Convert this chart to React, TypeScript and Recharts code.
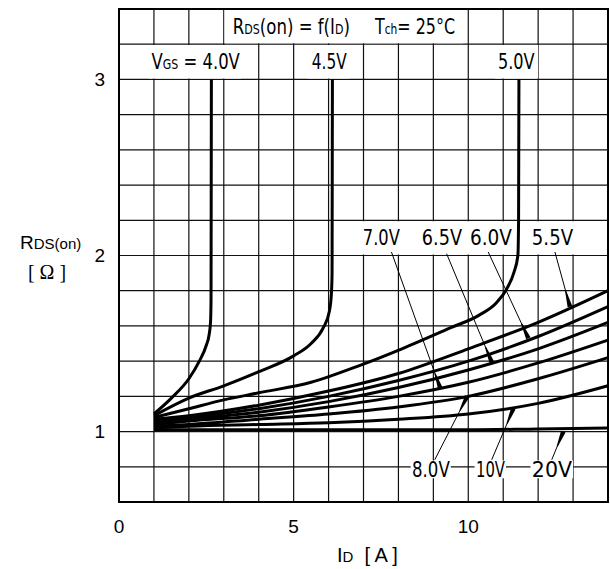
import React from "react";
import {
  LineChart,
  Line,
  XAxis,
  YAxis,
  CartesianGrid,
  ReferenceArea,
  ReferenceLine,
} from "recharts";

// grid / ticks
const xTicks = [0, 1, 2, 3, 4, 5, 6, 7, 8, 9, 10, 11, 12, 13, 14];
const xTickLabels = [0, 5, 10];
const yTicks = [0.6, 0.8, 1, 1.2, 1.4, 1.6, 1.8, 2, 2.2, 2.4, 2.6, 2.8, 3, 3.2, 3.4];
const yTickLabels = [1, 2, 3];

// VGS = 4.0 / 4.5 / 5.0 V  (curves that turn vertical)
const id40 = [1, 1.5, 2, 2.3, 2.5, 2.58, 2.62, 2.635, 2.645];
const r40 = [1.1, 1.19, 1.3, 1.4, 1.49, 1.55, 1.62, 1.75, 3.0];
const id45 = [1, 2, 3, 4, 5, 5.5, 5.85, 6.02, 6.08, 6.1, 6.11];
const r45 = [1.09, 1.19, 1.26, 1.34, 1.43, 1.5, 1.59, 1.68, 1.78, 1.9, 3.0];
const id50 = [1, 2, 3, 4, 5.5, 6.9, 8.1, 9.5, 10.3, 10.8, 11.1, 11.3, 11.42, 11.44, 11.45];
const r50 = [1.08, 1.13, 1.18, 1.22, 1.28, 1.376, 1.47, 1.59, 1.66, 1.73, 1.81, 1.9, 2.0, 2.2, 3.0];

// VGS = 5.5 ... 20 V, same ID points
const idFan = [1, 2, 4, 6, 8, 10, 12, 14];
const r55 = [1.07, 1.09, 1.15, 1.23, 1.33, 1.47, 1.62, 1.8];
const r60 = [1.06, 1.08, 1.13, 1.2, 1.29, 1.4, 1.54, 1.71];
const r65 = [1.05, 1.07, 1.11, 1.17, 1.25, 1.35, 1.47, 1.62];
const r70 = [1.04, 1.06, 1.09, 1.14, 1.2, 1.28, 1.39, 1.52];
const r80 = [1.03, 1.04, 1.07, 1.1, 1.14, 1.2, 1.3, 1.42];
const r100 = [1.02, 1.03, 1.04, 1.05, 1.07, 1.1, 1.16, 1.26];
const r200 = [1.01, 1.01, 1.01, 1.01, 1.01, 1.01, 1.015, 1.02];

const toPts = (xs: number[], ys: number[]) => xs.map((x, i) => ({ x, y: ys[i] }));

const series = [
  toPts(id40, r40),
  toPts(id45, r45),
  toPts(id50, r50),
  toPts(idFan, r55),
  toPts(idFan, r60),
  toPts(idFan, r65),
  toPts(idFan, r70),
  toPts(idFan, r80),
  toPts(idFan, r100),
  toPts(idFan, r200),
];

// white patches behind the lettering
const whiteBoxes = [
  [3.02, 9.85, 3.205, 3.395],
  [0.85, 3.5, 3.005, 3.195],
  [5.4, 6.6, 3.005, 3.195],
  [10.75, 12.0, 3.005, 3.195],
  [6.95, 13.1, 2.005, 2.195],
  [8.35, 9.5, 0.735, 0.835],
  [10.18, 11.08, 0.735, 0.835],
  [11.78, 13.0, 0.735, 0.835],
];

type Part = [string, boolean?];
const labels: { x1: number; x2: number; y1: number; y2: number; parts: Part[] }[] = [
  { x1: 3.26, x2: 6.61, y1: 3.21, y2: 3.39, parts: [["R"], ["DS", true], ["(on) = f(I"], ["D", true], [")"]] },
  { x1: 7.33, x2: 9.62, y1: 3.21, y2: 3.39, parts: [["T"], ["ch", true], ["= 25°C"]] },
  { x1: 0.93, x2: 3.46, y1: 3.01, y2: 3.19, parts: [["V"], ["GS", true], [" = 4.0V"]] },
  { x1: 5.52, x2: 6.52, y1: 3.01, y2: 3.19, parts: [["4.5V"]] },
  { x1: 10.85, x2: 11.9, y1: 3.01, y2: 3.19, parts: [["5.0V"]] },
  { x1: 6.98, x2: 8.04, y1: 2.01, y2: 2.19, parts: [["7.0V"]] },
  { x1: 8.67, x2: 9.82, y1: 2.01, y2: 2.19, parts: [["6.5V"]] },
  { x1: 10.05, x2: 11.25, y1: 2.01, y2: 2.19, parts: [["6.0V"]] },
  { x1: 11.82, x2: 13.0, y1: 2.01, y2: 2.19, parts: [["5.5V"]] },
  { x1: 8.39, x2: 9.47, y1: 0.735, y2: 0.835, parts: [["8.0V"]] },
  { x1: 10.22, x2: 11.05, y1: 0.735, y2: 0.835, parts: [["10V"]] },
  { x1: 11.82, x2: 12.97, y1: 0.735, y2: 0.835, parts: [["20V"]] },
];

// leader lines: [label end, tip on curve]
const leaders = [
  [[7.8, 2.02], [9.2, 1.245]],
  [[9.38, 2.01], [10.67, 1.395]],
  [[10.57, 2.02], [11.72, 1.53]],
  [[12.48, 2.02], [12.91, 1.71]],
  [[9.04, 0.84], [9.97, 1.2]],
  [[10.67, 0.84], [11.29, 1.13]],
  [[12.39, 0.84], [12.72, 1.0]],
];

const letterFont = "'DejaVu Sans', sans-serif";
const axisFont = "'Liberation Sans', Arial, sans-serif";

const makeLabel = (parts: Part[]) => (props: any) => {
  const vb = props.viewBox;
  if (!vb) return null;
  return (
    <text
      x={vb.x}
      y={vb.y + vb.height / 2 + 7.5}
      textLength={vb.width}
      lengthAdjust="spacingAndGlyphs"
      fontFamily={letterFont}
      fontSize={21}
      fill="#000"
      style={{ whiteSpace: "pre" }}
    >
      {parts.map((p, i) => (
        <tspan key={i} fontSize={p[1] ? 14 : 21}>
          {p[0]}
        </tspan>
      ))}
    </text>
  );
};

const renderLeader = (props: any) => {
  const { x1, y1, x2, y2 } = props;
  const dx = x1 - x2;
  const dy = y1 - y2;
  const len = Math.hypot(dx, dy) || 1;
  const ux = dx / len;
  const uy = dy / len;
  const px = -uy;
  const py = ux;
  const L = Math.min(16, len * 0.6);
  const w0 = 2.4;
  const w1 = 0.6;
  const pts = [
    [x2 + px * w0, y2 + py * w0],
    [x2 + ux * L + px * w1, y2 + uy * L + py * w1],
    [x2 + ux * L - px * w1, y2 + uy * L - py * w1],
    [x2 - px * w0, y2 - py * w0],
  ]
    .map((p) => p.join(","))
    .join(" ");
  return (
    <g>
      <line x1={x1} y1={y1} x2={x2} y2={y2} stroke="#000" strokeWidth={1} />
      <polygon points={pts} fill="#000" />
    </g>
  );
};

export default function App() {
  return (
    <div style={{ position: "absolute", left: 0, top: 0, width: 610, height: 569, background: "#fff" }}>
      <LineChart width={610} height={569} margin={{ top: 9, right: 2, bottom: 37, left: 89 }}>
        <CartesianGrid stroke="#111" strokeWidth={1.2} />
        <XAxis
          type="number"
          dataKey="x"
          domain={[0, 14]}
          ticks={xTicks}
          interval={0}
          tickFormatter={(v) => (xTickLabels.includes(v) ? String(v) : "")}
          axisLine={false}
          tickLine={false}
          tickSize={0}
          tickMargin={18}
          height={30}
          tick={{ fontSize: 19, fill: "#000", fontFamily: axisFont }}
        />
        <YAxis
          type="number"
          dataKey="y"
          domain={[0.6, 3.4]}
          ticks={yTicks}
          interval={0}
          tickFormatter={(v) => (yTickLabels.includes(v) ? String(v) : "")}
          axisLine={false}
          tickLine={false}
          tickSize={0}
          tickMargin={14}
          width={30}
          tick={{ fontSize: 19, fill: "#000", fontFamily: axisFont }}
        />
        {whiteBoxes.map((b, i) => (
          <ReferenceArea
            key={"w" + i}
            x1={b[0]}
            x2={b[1]}
            y1={b[2]}
            y2={b[3]}
            fill="#fff"
            fillOpacity={1}
            stroke="none"
          />
        ))}
        {series.map((d, i) => (
          <Line
            key={"s" + i}
            data={d}
            dataKey="y"
            type="monotone"
            stroke="#000"
            strokeWidth={3}
            dot={false}
            activeDot={false}
            isAnimationActive={false}
          />
        ))}
        {leaders.map((l, i) => (
          <ReferenceLine
            key={"l" + i}
            segment={[
              { x: l[0][0], y: l[0][1] },
              { x: l[1][0], y: l[1][1] },
            ]}
            shape={renderLeader}
          />
        ))}
        {labels.map((l, i) => (
          <ReferenceArea
            key={"t" + i}
            x1={l.x1}
            x2={l.x2}
            y1={l.y1}
            y2={l.y2}
            fill="none"
            fillOpacity={0}
            stroke="none"
            label={makeLabel(l.parts)}
          />
        ))}
        <ReferenceArea x1={0} x2={14} y1={0.6} y2={3.4} fill="none" fillOpacity={0} stroke="#000" strokeWidth={2} />
      </LineChart>
      <svg width={610} height={569} style={{ position: "absolute", left: 0, top: 0, pointerEvents: "none" }}>
        <text x={20} y={249} fontFamily={axisFont} fontSize={19} fill="#000">
          R<tspan fontSize={15}>DS(on)</tspan>
        </text>
        <text x={47} y={279} textAnchor="middle" fontFamily="'Liberation Serif', serif" fontSize={20} fill="#000" style={{ whiteSpace: "pre" }}>
          {"[ Ω ]"}
        </text>
        <text x={337} y={562} fontFamily={axisFont} fontSize={20} fill="#000" style={{ whiteSpace: "pre" }}>
          I<tspan fontSize={15}>D</tspan>
          <tspan>{"  [ A ]"}</tspan>
        </text>
      </svg>
    </div>
  );
}
